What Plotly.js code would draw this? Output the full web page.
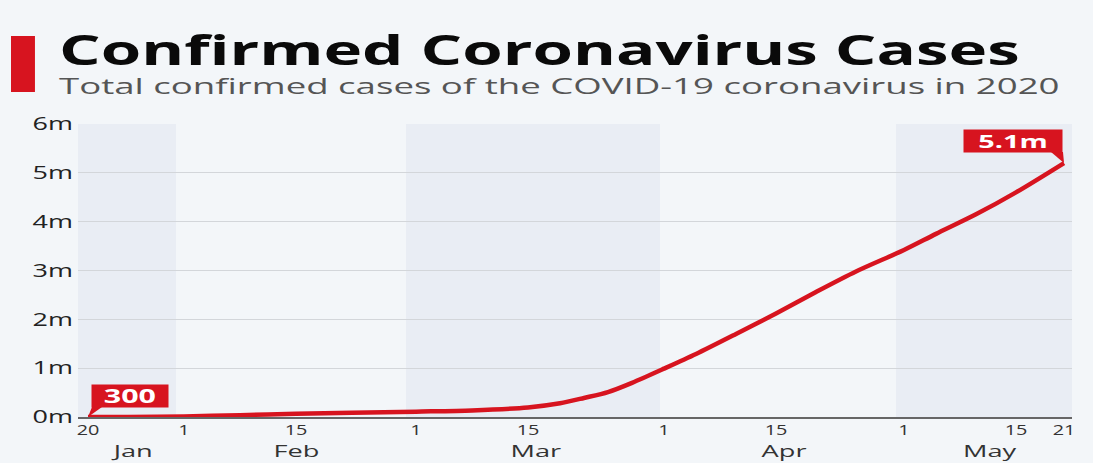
<!DOCTYPE html>
<html>
<head>
<meta charset="utf-8">
<script src="https://cdn.plot.ly/plotly-3.0.1.min.js"></script>
<style>
  html, body { margin: 0; padding: 0; background: #f3f6f9; }
  #chart { width: 1093px; height: 463px; }
</style>
</head>
<body>
<div id="chart"></div>
<script>
// ---- data ----
const dates = ['2020-01-20','2020-01-25','2020-02-01','2020-02-08','2020-02-15','2020-02-22',
  '2020-03-01','2020-03-08','2020-03-15','2020-03-19','2020-03-22','2020-03-25','2020-03-28',
  '2020-04-01','2020-04-05','2020-04-10','2020-04-15','2020-04-20','2020-04-25',
  '2020-05-01','2020-05-05','2020-05-10','2020-05-15','2020-05-21'];
const cases = [300, 2000, 12000, 37000, 69000, 85000,
  110000, 135000, 195000, 280000, 390000, 510000, 700000,
  990000, 1290000, 1700000, 2120000, 2560000, 2980000,
  3420000, 3750000, 4150000, 4600000, 5200000];

const dayTickVals = ['2020-01-20','2020-02-01','2020-02-15','2020-03-01','2020-03-15',
  '2020-04-01','2020-04-15','2020-05-01','2020-05-15','2020-05-21'];
const dayTickText = ['20','1','15','1','15','1','15','1','15','21'];

const monthNames = ['Jan','Feb','Mar','Apr','May'];
const monthCenters = ['2020-01-25 12:00','2020-02-15','2020-03-16','2020-04-16','2020-05-11 18:00'];

const yTickVals = [0, 1000000, 2000000, 3000000, 4000000, 5000000, 6000000];
const yTickText = ['0m','1m','2m','3m','4m','5m','6m'];

const bandStarts = ['2020-01-18 18:00','2020-02-28 18:00','2020-04-30'];
const bandEnds   = ['2020-01-31','2020-03-31 12:00','2020-05-22'];

const titleText = 'Confirmed Coronavirus Cases';
const subtitleText = 'Total confirmed cases of the COVID-19 coronavirus in 2020';
const startLabel = '300';
const endLabel = '5.1m';

// ---- styling ----
const RED = '#d7141f';
const BG = '#f3f6f9';
const BAND = '#e9edf4';
const FONT = 'Open Sans, Noto Sans, sans-serif';

const shapes = bandStarts.map((s, i) => ({
  type: 'rect', xref: 'x', yref: 'paper', x0: s, x1: bandEnds[i], y0: 0, y1: 1,
  fillcolor: BAND, line: {width: 0}, layer: 'below'
}));
// red accent bar left of title
shapes.push({type: 'rect', xref: 'paper', yref: 'paper',
  x0: -0.0674, x1: -0.0433, y0: 1.109, y1: 1.3003,
  fillcolor: RED, line: {width: 0}});
// callout tails
shapes.push({type: 'path', xref: 'x', yref: 'y', xsizemode: 'pixel', ysizemode: 'pixel',
  xanchor: dates[0], yanchor: cases[0], path: 'M 0 0 L 4 10 L 14 10 Z',
  fillcolor: RED, line: {width: 0}});
shapes.push({type: 'path', xref: 'x', yref: 'y', xsizemode: 'pixel', ysizemode: 'pixel',
  xanchor: dates[dates.length-1], yanchor: cases[cases.length-1], path: 'M 0 0 L -1 11 L -13 11 Z',
  fillcolor: RED, line: {width: 0}});

const annotations = [
  {xref: 'paper', yref: 'paper', x: -0.0211, y: 1.2545, xanchor: 'left', yanchor: 'middle',
   align: 'left', showarrow: false, text: titleText,
   font: {family: FONT, size: 41, color: '#0a0a0a', weight: 700}},
  {xref: 'paper', yref: 'paper', x: -0.0211, y: 1.1321, xanchor: 'left', yanchor: 'middle',
   align: 'left', showarrow: false, text: subtitleText,
   font: {family: FONT, size: 22, color: '#555555'}},
  {xref: 'x', yref: 'y', x: dates[0], y: cases[0], xanchor: 'left', yanchor: 'bottom',
   xshift: 3, yshift: 9, showarrow: false, text: startLabel, bgcolor: RED, borderpad: 0,
   width: 76, height: 22, align: 'center',
   font: {family: FONT, size: 19, color: '#ffffff', weight: 700}},
  {xref: 'x', yref: 'y', x: dates[dates.length-1], y: cases[cases.length-1], xanchor: 'right', yanchor: 'bottom',
   xshift: -1, yshift: 10, showarrow: false, text: endLabel, bgcolor: RED, borderpad: 0,
   width: 98, height: 22, align: 'center',
   font: {family: FONT, size: 18, color: '#ffffff', weight: 700}}
];
monthNames.forEach((m, i) => annotations.push({
  xref: 'x', yref: 'paper', x: monthCenters[i], y: 0, yanchor: 'middle', xanchor: 'center',
  yshift: -33, showarrow: false, text: m, font: {family: FONT, size: 17, color: '#333333'}
}));

const trace = {
  type: 'scatter', mode: 'lines', x: dates, y: cases,
  line: {color: RED, width: 4.5, shape: 'spline', smoothing: 0.8},
  hoverinfo: 'skip'
};

const layout = {
  width: 1093, height: 463,
  margin: {l: 78, r: 21, t: 124, b: 46, pad: 0},
  paper_bgcolor: BG, plot_bgcolor: BG,
  showlegend: false,
  font: {family: FONT, color: '#333333'},
  xaxis: {
    type: 'date', range: ['2020-01-18 18:00', '2020-05-22 00:00'],
    tickmode: 'array', tickvals: dayTickVals, ticktext: dayTickText,
    tickfont: {size: 14, color: '#333333'}, ticks: '', showgrid: false,
    showline: true, linecolor: '#666666', linewidth: 1.5, zeroline: false,
    ticklabelstandoff: 0
  },
  yaxis: {
    range: [0, 6000000], tickmode: 'array', tickvals: yTickVals, ticktext: yTickText,
    tickfont: {size: 18, color: '#222222'}, ticks: '', showgrid: true,
    gridcolor: '#d3d6da', gridwidth: 1, zeroline: false, showline: false,
    ticklabelstandoff: 4
  },
  shapes: shapes,
  annotations: annotations
};

function stretchEl(el, s) {
  const x = parseFloat(el.getAttribute('x')) || 0;
  let base = el.getAttribute('data-otr');
  if (base === null) { base = el.getAttribute('transform') || ''; el.setAttribute('data-otr', base); }
  el.setAttribute('transform', base + ' translate(' + x + ',0) scale(' + s + ',1) translate(' + (-x) + ',0)');
}

function stretchAll() {
  const gd = document.getElementById('chart');
  gd.querySelectorAll('.xtick text').forEach(el => stretchEl(el, 1.42));
  gd.querySelectorAll('.ytick text').forEach(el => stretchEl(el, 1.5));
  const targets = {0: 961, 1: 1001};
  gd.querySelectorAll('g.annotation').forEach(g => {
    const idx = parseInt(g.getAttribute('data-index'));
    const t = g.querySelector('text');
    if (!t) return;
    if (targets[idx] !== undefined) {
      const w = t.getComputedTextLength();
      if (w > 0) stretchEl(t, targets[idx] / w);
    } else if (idx === 2 || idx === 3) {
      stretchEl(t, 1.6);
    } else {
      stretchEl(t, 1.6);
    }
  });
}

Plotly.newPlot('chart', [trace], layout, {displayModeBar: false, staticPlot: true}).then(stretchAll);
</script>
</body>
</html>
